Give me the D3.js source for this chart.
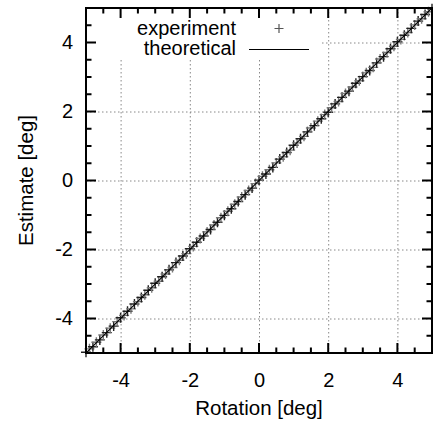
<!DOCTYPE html>
<html>
<head>
<meta charset="utf-8">
<script src="https://cdn.jsdelivr.net/npm/d3@7"></script>
<style>
    body { margin: 0; background: #fff; }
    svg { display: block; font-family: "Liberation Sans", Arial, sans-serif; }
</style>
</head>
<body>
<svg id="chart" width="433" height="421"></svg>
<script>
// experiment samples
let rotation = [
    -5.0, -4.9, -4.8, -4.7, -4.6, -4.5, -4.4, -4.3, -4.2, -4.1,
    -4.0, -3.9, -3.8, -3.7, -3.6, -3.5, -3.4, -3.3, -3.2, -3.1,
    -3.0, -2.9, -2.8, -2.7, -2.6, -2.5, -2.4, -2.3, -2.2, -2.1,
    -2.0, -1.9, -1.8, -1.7, -1.6, -1.5, -1.4, -1.3, -1.2, -1.1,
    -1.0, -0.9, -0.8, -0.7, -0.6, -0.5, -0.4, -0.3, -0.2, -0.1,
    0.0, 0.1, 0.2, 0.3, 0.4, 0.5, 0.6, 0.7, 0.8, 0.9,
    1.0, 1.1, 1.2, 1.3, 1.4, 1.5, 1.6, 1.7, 1.8, 1.9,
    2.0, 2.1, 2.2, 2.3, 2.4, 2.5, 2.6, 2.7, 2.8, 2.9,
    3.0, 3.1, 3.2, 3.3, 3.4, 3.5, 3.6, 3.7, 3.8, 3.9,
    4.0, 4.1, 4.2, 4.3, 4.4, 4.5, 4.6, 4.7, 4.8, 4.9,
    5.0,
];
let estimate = [
    -4.98, -4.88, -4.82, -4.69, -4.62, -4.48, -4.41, -4.28, -4.22, -4.09,
    -3.98, -3.91, -3.79, -3.72, -3.58, -3.51, -3.39, -3.31, -3.18, -3.11,
    -2.98, -2.92, -2.79, -2.71, -2.59, -2.52, -2.38, -2.31, -2.19, -2.12,
    -1.98, -1.91, -1.79, -1.68, -1.61, -1.49, -1.42, -1.29, -1.21, -1.08,
    -1.01, -0.89, -0.82, -0.69, -0.61, -0.48, -0.41, -0.29, -0.22, -0.09,
    0.01, 0.12, 0.19, 0.31, 0.38, 0.51, 0.62, 0.69, 0.81, 0.88,
    1.02, 1.09, 1.21, 1.28, 1.41, 1.52, 1.59, 1.72, 1.79, 1.91,
    1.98, 2.11, 2.22, 2.29, 2.41, 2.52, 2.59, 2.71, 2.82, 2.89,
    3.01, 3.12, 3.19, 3.28, 3.41, 3.52, 3.59, 3.71, 3.82, 3.89,
    4.02, 4.09, 4.21, 4.29, 4.41, 4.51, 4.62, 4.69, 4.81, 4.89,
    4.98,
];
let theoryX = [-5, 5];
let theoryY = [-5, 5];

let majorTicks = [-4, -2, 0, 2, 4];
let minorTicks = [-4.5, -3.5, -3, -2.5, -1.5, -1, -0.5, 0.5, 1, 1.5, 2.5, 3, 3.5, 4.5];
let legendLabels = ["experiment", "theoretical"];

let svg = d3.select("#chart");
let plotLeft = 86, plotRight = 432, plotTop = 8, plotBottom = 353;

let x = d3.scaleLinear().domain([-5, 5]).range([plotLeft, plotRight]);
let y = d3.scaleLinear().domain([-5, 5]).range([plotBottom, plotTop]);

// grid
let grid = svg.append("g")
    .attr("stroke", "#888")
    .attr("stroke-width", 1)
    .attr("stroke-dasharray", "1.5,2.5");
grid.selectAll(".gx").data(majorTicks).enter().append("line")
    .attr("x1", d => x(d) + 0.5).attr("x2", d => x(d) + 0.5)
    .attr("y1", plotTop).attr("y2", plotBottom);
grid.selectAll(".gy").data(majorTicks).enter().append("line")
    .attr("y1", d => y(d) + 0.5).attr("y2", d => y(d) + 0.5)
    .attr("x1", plotLeft).attr("x2", plotRight);

// legend background hides the grid
svg.append("rect")
    .attr("x", plotLeft + 1).attr("y", plotTop + 1)
    .attr("width", 234).attr("height", 49)
    .attr("fill", "#fff");

svg.append("clipPath").attr("id", "clip")
    .append("rect").attr("x", plotLeft).attr("y", plotTop)
    .attr("width", plotRight - plotLeft).attr("height", plotBottom - plotTop);

let plusPath = (cx, cy, r) => `M${cx - r},${cy}H${cx + r}M${cx},${cy - r}V${cy + r}`;

// experiment points
svg.append("g")
    .selectAll("path")
    .data(rotation)
    .enter()
    .append("path")
    .attr("d", (d, i) => plusPath(x(d), y(estimate[i]), 5))
    .attr("stroke", (d, i) => i % 2 ? "#777" : "#222")
    .attr("stroke-width", 1.4)
    .attr("fill", "none");

// theoretical line
svg.append("path")
    .datum(theoryX.map((d, i) => [d, theoryY[i]]))
    .attr("clip-path", "url(#clip)")
    .attr("d", d3.line().x(d => x(d[0])).y(d => y(d[1])))
    .attr("stroke", "#000")
    .attr("stroke-width", 1.2)
    .attr("fill", "none");

// tick labels from d3 axes
function styleAxis(g) {
    g.select(".domain").remove();
    g.selectAll(".tick line").remove();
    g.selectAll(".tick text").attr("fill", "#000").attr("font-size", 20)
        .attr("font-family", "Liberation Sans, Arial, sans-serif");
}
let fmt = d => String(d);
svg.append("g").attr("transform", `translate(0,${plotBottom})`)
    .call(d3.axisBottom(x).tickValues(majorTicks).tickSize(0).tickPadding(20).tickFormat(fmt))
    .call(styleAxis);
svg.append("g").attr("transform", `translate(${plotLeft},0)`)
    .call(d3.axisLeft(y).tickValues(majorTicks).tickSize(0).tickPadding(13).tickFormat(fmt))
    .call(styleAxis);

// tick marks pointing inward on all four sides
function tickMarks(values, len) {
    let d = "";
    for (let v of values) {
        let px = x(v), py = y(v);
        d += `M${px},${plotBottom}V${plotBottom - len}`;
        d += `M${px},${plotTop}V${plotTop + len}`;
        d += `M${plotLeft},${py}H${plotLeft + len}`;
        d += `M${plotRight},${py}H${plotRight - len}`;
    }
    return d;
}
svg.append("path")
    .attr("d", tickMarks(majorTicks, 10) + tickMarks(minorTicks, 5.5))
    .attr("fill", "none")
    .attr("stroke", "#000")
    .attr("stroke-width", 2);

// border
svg.append("rect")
    .attr("x", plotLeft).attr("y", plotTop)
    .attr("width", plotRight - plotLeft).attr("height", plotBottom - plotTop)
    .attr("fill", "none").attr("stroke", "#000").attr("stroke-width", 2);

// axis titles
svg.append("text")
    .attr("x", (plotLeft + plotRight) / 2).attr("y", 415)
    .attr("text-anchor", "middle").attr("font-size", 20.5)
    .text("Rotation [deg]");
svg.append("text")
    .attr("transform", `translate(33,${(plotTop + plotBottom) / 2}) rotate(-90)`)
    .attr("text-anchor", "middle").attr("font-size", 20.5)
    .text("Estimate [deg]");

// legend
let legend = svg.append("g");
legend.selectAll("text").data(legendLabels).enter().append("text")
    .attr("x", 236).attr("y", (d, i) => 35 + i * 20)
    .attr("text-anchor", "end").attr("font-size", 20)
    .text(d => d);
legend.append("path")
    .attr("d", plusPath(279, 28.5, 4.5))
    .attr("stroke", "#555").attr("stroke-width", 1.2);
legend.append("line")
    .attr("x1", 249).attr("x2", 309).attr("y1", 49.5).attr("y2", 49.5)
    .attr("stroke", "#000").attr("stroke-width", 1.2);
</script>
</body>
</html>
